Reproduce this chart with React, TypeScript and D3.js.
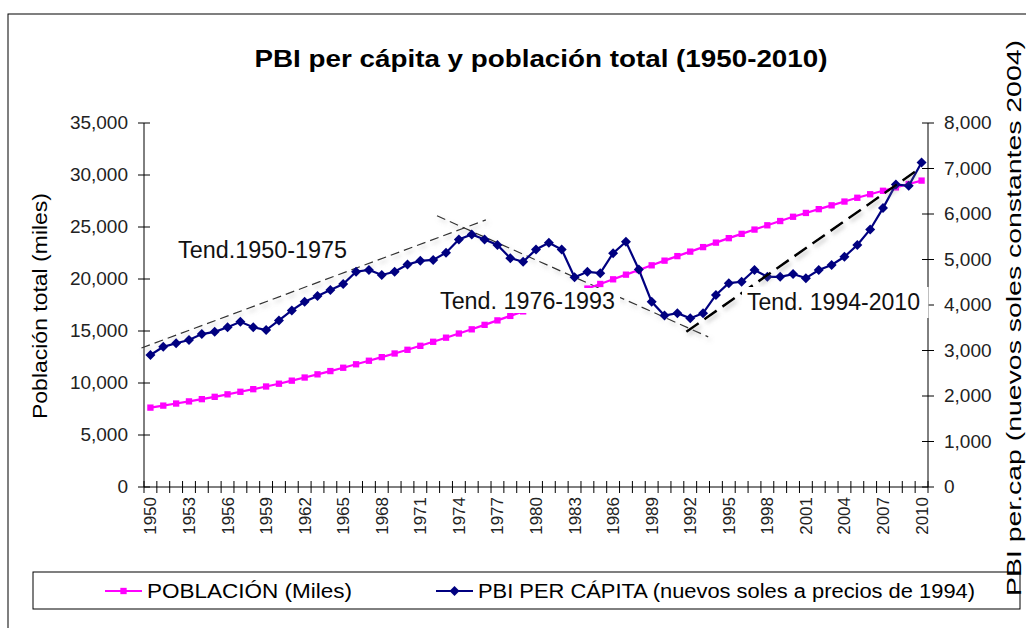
import * as d3 from "d3";

const years = [
  1950, 1951, 1952, 1953, 1954, 1955, 1956, 1957, 1958, 1959,
  1960, 1961, 1962, 1963, 1964, 1965, 1966, 1967, 1968, 1969,
  1970, 1971, 1972, 1973, 1974, 1975, 1976, 1977, 1978, 1979,
  1980, 1981, 1982, 1983, 1984, 1985, 1986, 1987, 1988, 1989,
  1990, 1991, 1992, 1993, 1994, 1995, 1996, 1997, 1998, 1999,
  2000, 2001, 2002, 2003, 2004, 2005, 2006, 2007, 2008, 2009, 2010,
];

// población total (miles)
const poblacion = [
  7632, 7826, 8026, 8232, 8447, 8671, 8910, 9155, 9405, 9664,
  9931, 10225, 10526, 10833, 11147, 11467, 11800, 12140, 12487, 12838,
  13193, 13576, 13963, 14358, 14757, 15161, 15590, 16020, 16452, 16887,
  17324, 17762, 18200, 18640, 19080, 19523, 19970, 20418, 20866, 21315,
  21764, 22200, 22634, 23067, 23497, 23927, 24340, 24752, 25164, 25574,
  25984, 26352, 26718, 27083, 27447, 27811, 28151, 28482, 28807, 29132, 29462,
];

// PBI per cápita (soles)
const pbi = [
  2900, 3080, 3160, 3230, 3360, 3410, 3510, 3630, 3510, 3450,
  3660, 3880, 4070, 4200, 4330, 4460, 4730, 4770, 4660, 4730,
  4890, 4970, 4990, 5150, 5440, 5550, 5440, 5320, 5030, 4950,
  5220, 5370, 5220, 4610, 4730, 4700, 5140, 5390, 4780, 4070,
  3770, 3820, 3710, 3820, 4220, 4480, 4510, 4770, 4620, 4620,
  4680, 4590, 4770, 4880, 5060, 5320, 5660, 6130, 6650, 6620, 7130,
];

const leftTicks = [0, 5000, 10000, 15000, 20000, 25000, 30000, 35000];
const rightTicks = [0, 1000, 2000, 3000, 4000, 5000, 6000, 7000, 8000];
const yearLabels = years.filter((y) => (y - 1950) % 3 === 0);

// tendencias: [año, PBI] de los extremos
const tend1 = [[1949.3, 3055], [1976.1, 5870]];
const tend2 = [[1972.3, 5960], [1993.4, 3300]];
const tend3 = [[1991.7, 3410], [2009.9, 7010]];

const FONT = "'Liberation Sans', Arial, sans-serif";

export default function App() {
  const W = 1026, H = 628;
  const m = { left: 144, right: 928, top: 123, bottom: 487 };

  const x = d3.scaleBand<number>().domain(years).range([m.left, m.right]).padding(0);
  const bw = x.bandwidth();
  const cx = (yr: number) => (x(yr) as number) + bw / 2;
  const xLin = d3.scaleLinear().domain([1950, 2010]).range([cx(1950), cx(2010)]);
  const yL = d3.scaleLinear().domain([0, 35000]).range([m.bottom, m.top]);
  const yR = d3.scaleLinear().domain([0, 8000]).range([m.bottom, m.top]);
  const fmt = d3.format(",");

  const popLine = d3.line<number>().x((_, i) => cx(years[i])).y((d) => yL(d))(poblacion) || "";
  const pbiLine = d3.line<number>().x((_, i) => cx(years[i])).y((d) => yR(d))(pbi) || "";
  const trend = (pts: number[][]) =>
    d3.line<number[]>().x((d) => xLin(d[0])).y((d) => yR(d[1]))(pts) || "";

  const square = d3.symbol().type(d3.symbolSquare).size(40)() || "";
  const diamond = d3.symbol().type(d3.symbolSquare).size(50)() || "";

  return (
    <svg width={W} height={H} style={{ position: "absolute", left: 0, top: 0, fontFamily: FONT }}>
      <defs>
        <filter id="sh" x="-10%" y="-50%" width="120%" height="200%">
          <feDropShadow dx="2" dy="3" stdDeviation="2" floodColor="#888" floodOpacity="0.5" />
        </filter>
      </defs>
      <rect x={0} y={0} width={W} height={H} fill="#fff" />
      <rect x={8} y={14} width={W} height={H} fill="none" stroke="#000" strokeWidth={1} />

      <text x={541} y={67} textAnchor="middle" fontSize={24} fontWeight="bold" textLength={573} lengthAdjust="spacingAndGlyphs">
        PBI per cápita y población total (1950-2010)
      </text>

      {/* eje izquierdo */}
      <line x1={m.left} x2={m.left} y1={m.top} y2={m.bottom} stroke="#000" />
      {leftTicks.map((t) => (
        <g key={t}>
          <line x1={m.left - 6} x2={m.left + 6} y1={yL(t)} y2={yL(t)} stroke="#000" />
          <text x={m.left - 16} y={yL(t) + 6} textAnchor="end" fontSize={19} fill="#222">
            {fmt(t)}
          </text>
        </g>
      ))}
      <text transform={`translate(47,306) rotate(-90)`} textAnchor="middle" fontSize={21} textLength={226} lengthAdjust="spacingAndGlyphs">
        Población total (miles)
      </text>

      {/* eje derecho */}
      <line x1={m.right} x2={m.right} y1={m.top} y2={m.bottom} stroke="#000" />
      {rightTicks.map((t) => (
        <g key={t}>
          <line x1={m.right - 6} x2={m.right + 6} y1={yR(t)} y2={yR(t)} stroke="#000" />
          <text x={m.right + 16} y={yR(t) + 6} textAnchor="start" fontSize={19} fill="#222">
            {fmt(t)}
          </text>
        </g>
      ))}

      {/* eje x */}
      <line x1={m.left} x2={m.right} y1={m.bottom} y2={m.bottom} stroke="#000" />
      {[...years.map((yr) => x(yr) as number), m.right].map((px, i) => (
        <line key={i} x1={px} x2={px} y1={m.bottom - 6} y2={m.bottom + 6} stroke="#000" />
      ))}
      {yearLabels.map((yr) => (
        <text key={yr} transform={`translate(${cx(yr) + 6},${m.bottom + 10}) rotate(-90)`} textAnchor="end" fontSize={17} fill="#222">
          {yr}
        </text>
      ))}

      {/* líneas de tendencia */}
      <path d={trend(tend1)} fill="none" stroke="#333" strokeWidth={1.2} strokeDasharray="9,5" filter="url(#sh)" />
      <path d={trend(tend2)} fill="none" stroke="#333" strokeWidth={1.2} strokeDasharray="9,5" filter="url(#sh)" />

      {/* población */}
      <path d={popLine} fill="none" stroke="#ff00ff" strokeWidth={2.2} />
      {poblacion.map((v, i) => (
        <path key={i} d={square} transform={`translate(${cx(years[i])},${yL(v)})`} fill="#ff00ff" />
      ))}

      {/* PBI per cápita */}
      <path d={pbiLine} fill="none" stroke="#000080" strokeWidth={2.2} />
      {pbi.map((v, i) => (
        <path key={i} d={diamond} transform={`translate(${cx(years[i])},${yR(v)}) rotate(45)`} fill="#000080" />
      ))}

      <path d={trend(tend3)} fill="none" stroke="#000" strokeWidth={2.5} strokeDasharray="15,7" filter="url(#sh)" />

      {/* etiquetas */}
      <text x={178} y={258} fontSize={23} fill="#111" textLength={169} lengthAdjust="spacingAndGlyphs">Tend.1950-1975</text>
      <rect x={436} y={288} width={184} height={25} fill="#fff" />
      <text x={440} y={309} fontSize={23} fill="#111" textLength={175} lengthAdjust="spacingAndGlyphs">Tend. 1976-1993</text>
      <rect x={742} y={287} width={186.5} height={31} fill="#fff" />
      <text x={747} y={310} fontSize={23} fill="#111" textLength={173} lengthAdjust="spacingAndGlyphs">Tend. 1994-2010</text>

      {/* leyenda */}
      <rect x={33} y={572} width={987} height={37} fill="#fff" stroke="#000" />
      <line x1={105} x2={142} y1={591} y2={591} stroke="#ff00ff" strokeWidth={2.2} />
      <path d={square} transform="translate(123.5,591)" fill="#ff00ff" />
      <text x={147} y={598} fontSize={20} textLength={205} lengthAdjust="spacingAndGlyphs">POBLACIÓN (Miles)</text>
      <line x1={436} x2={473} y1={591} y2={591} stroke="#000080" strokeWidth={2.2} />
      <path d={diamond} transform="translate(454.5,591) rotate(45)" fill="#000080" />
      <text x={478} y={598} fontSize={20} textLength={497} lengthAdjust="spacingAndGlyphs">PBI PER CÁPITA (nuevos soles a precios de 1994)</text>

      <text transform={`translate(1021,318) rotate(-90)`} textAnchor="middle" fontSize={21} textLength={556} lengthAdjust="spacingAndGlyphs">
        PBI per.cap (nuevos soles constantes 2004)
      </text>
    </svg>
  );
}
